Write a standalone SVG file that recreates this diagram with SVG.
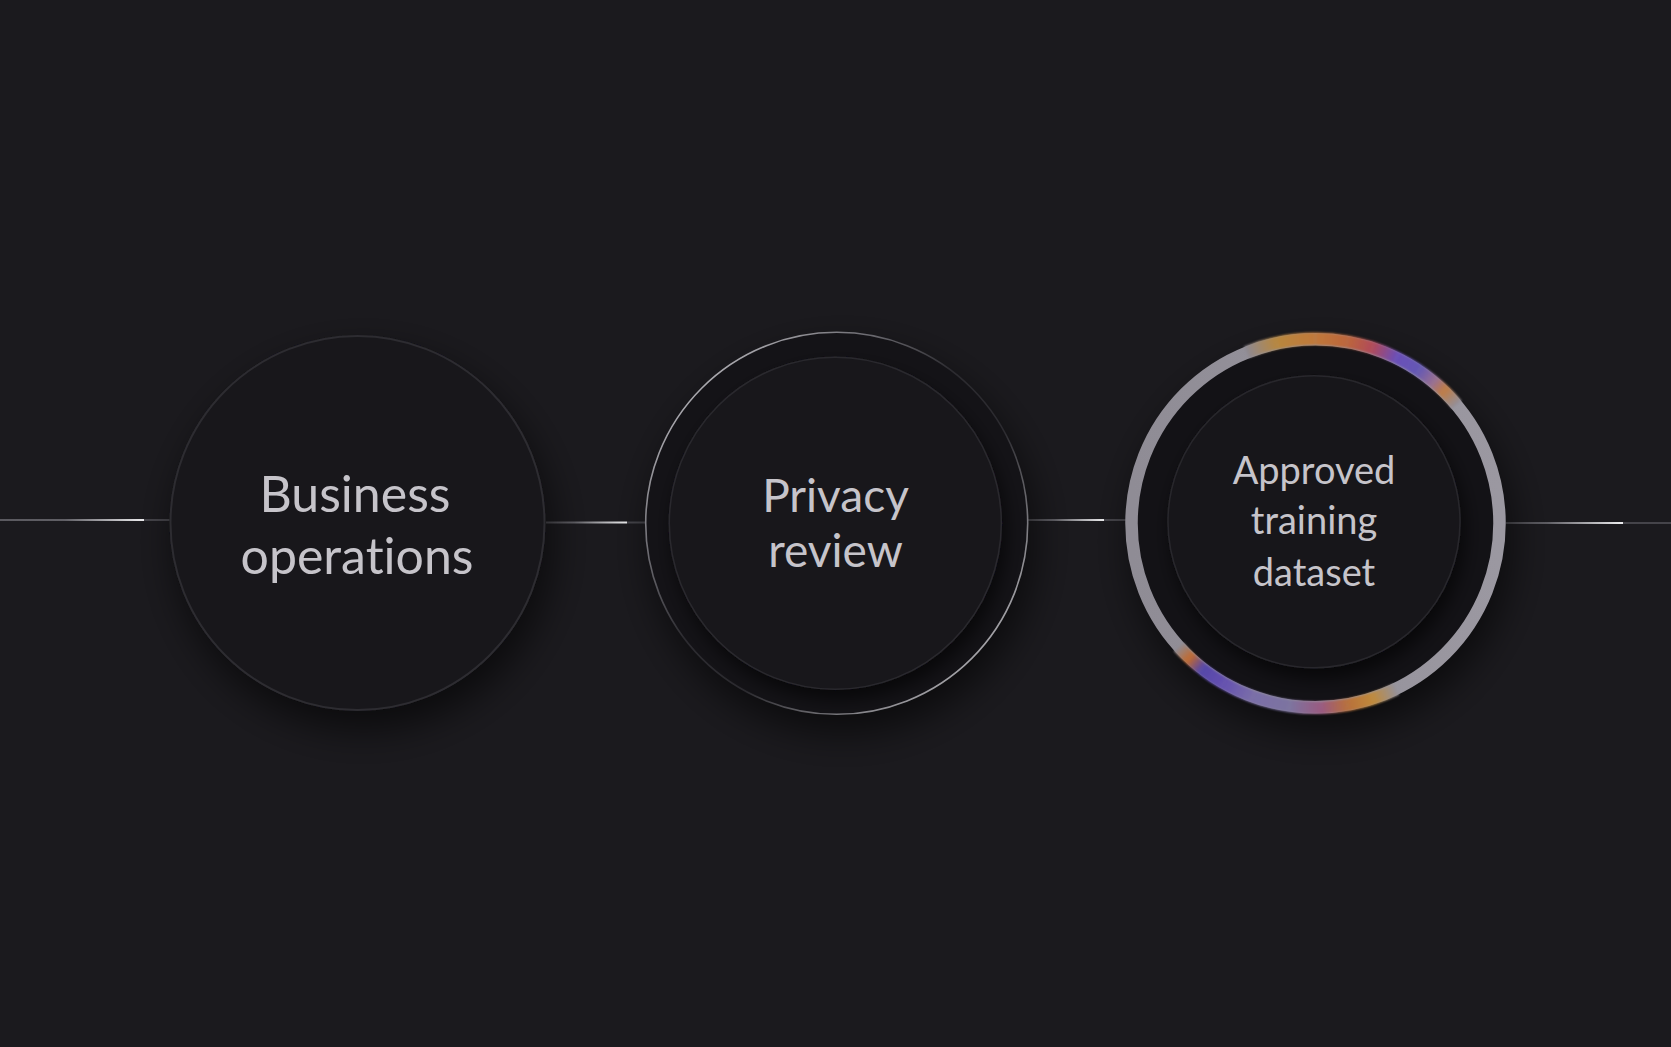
<svg xmlns="http://www.w3.org/2000/svg" width="1671" height="1047" viewBox="0 0 1671 1047">
<style>
.lbl{font-family:Lato,"Noto Sans","DejaVu Sans",sans-serif;fill:#c6c4ca;text-anchor:middle;font-weight:400;font-variant-ligatures:none;font-feature-settings:"liga" 0}
.dim{stroke:#45444a;stroke-width:2}
.seg{fill:none;stroke-width:12.5;stroke-linecap:butt}
</style>
<defs>
<filter id="drop" x="-40%" y="-40%" width="180%" height="190%">
<feDropShadow dx="6" dy="18" stdDeviation="20" flood-color="#000" flood-opacity="0.6"/>
</filter>
<filter id="inner" x="-30%" y="-30%" width="160%" height="170%">
<feDropShadow dx="4" dy="10" stdDeviation="9" flood-color="#000" flood-opacity="0.6"/>
</filter>
<filter id="soft" x="-10%" y="-10%" width="120%" height="120%">
<feGaussianBlur stdDeviation="0.9"/>
</filter>
<linearGradient id="ln0" gradientUnits="userSpaceOnUse" x1="0" y1="0" x2="144" y2="0">
<stop offset="0" stop-color="#5a595f"/><stop offset="0.45" stop-color="#605f65"/><stop offset="1" stop-color="#eeeef0"/>
</linearGradient>
<linearGradient id="ln1" gradientUnits="userSpaceOnUse" x1="546" y1="0" x2="627" y2="0">
<stop offset="0" stop-color="#4a494f"/><stop offset="0.35" stop-color="#5e5d63"/><stop offset="1" stop-color="#eeeef0"/>
</linearGradient>
<linearGradient id="ln2" gradientUnits="userSpaceOnUse" x1="1028" y1="0" x2="1104" y2="0">
<stop offset="0" stop-color="#4a494f"/><stop offset="0.35" stop-color="#5e5d63"/><stop offset="1" stop-color="#eeeef0"/>
</linearGradient>
<linearGradient id="ln3" gradientUnits="userSpaceOnUse" x1="1506" y1="0" x2="1623" y2="0">
<stop offset="0" stop-color="#4a494f"/><stop offset="0.35" stop-color="#5e5d63"/><stop offset="1" stop-color="#eeeef0"/>
</linearGradient>
<linearGradient id="ring2" x1="0" y1="0" x2="1" y2="1">
<stop offset="0" stop-color="#e4e3e8"/><stop offset="0.3" stop-color="#6a696f"/><stop offset="0.45" stop-color="#2c2b30"/><stop offset="0.6" stop-color="#2c2b30"/><stop offset="0.78" stop-color="#8a898e"/><stop offset="1" stop-color="#dcdbe0"/>
</linearGradient>
<linearGradient id="ring3" x1="0" y1="0" x2="1" y2="0">
<stop offset="0" stop-color="#8f8c95"/><stop offset="1" stop-color="#9b98a1"/>
</linearGradient>
<linearGradient id="t1" gradientUnits="userSpaceOnUse" x1="1246.4" y1="352.2" x2="1277.1" y2="342.8"><stop offset="0" stop-color="#8e8a93"/><stop offset="1" stop-color="#b8873e"/></linearGradient>
<linearGradient id="t2" gradientUnits="userSpaceOnUse" x1="1277.1" y1="342.8" x2="1315.5" y2="338.8"><stop offset="0" stop-color="#b8873e"/><stop offset="1" stop-color="#c0783a"/></linearGradient>
<linearGradient id="t3" gradientUnits="userSpaceOnUse" x1="1315.5" y1="338.8" x2="1347.5" y2="341.6"><stop offset="0" stop-color="#c0783a"/><stop offset="1" stop-color="#bc663c"/></linearGradient>
<linearGradient id="t4" gradientUnits="userSpaceOnUse" x1="1347.5" y1="341.6" x2="1372.5" y2="347.8"><stop offset="0" stop-color="#bc663c"/><stop offset="1" stop-color="#b04a5a"/></linearGradient>
<linearGradient id="t5" gradientUnits="userSpaceOnUse" x1="1372.5" y1="347.8" x2="1396.4" y2="357.5"><stop offset="0" stop-color="#b04a5a"/><stop offset="1" stop-color="#6a4fb8"/></linearGradient>
<linearGradient id="t6" gradientUnits="userSpaceOnUse" x1="1396.4" y1="357.5" x2="1418.7" y2="370.3"><stop offset="0" stop-color="#6a4fb8"/><stop offset="1" stop-color="#6458b4"/></linearGradient>
<linearGradient id="t7" gradientUnits="userSpaceOnUse" x1="1418.7" y1="370.3" x2="1434.1" y2="382.0"><stop offset="0" stop-color="#6458b4"/><stop offset="1" stop-color="#9a7090"/></linearGradient>
<linearGradient id="t8" gradientUnits="userSpaceOnUse" x1="1434.1" y1="382.0" x2="1443.7" y2="390.6"><stop offset="0" stop-color="#9a7090"/><stop offset="1" stop-color="#c07c44"/></linearGradient>
<linearGradient id="t9" gradientUnits="userSpaceOnUse" x1="1443.7" y1="390.6" x2="1456.8" y2="404.7"><stop offset="0" stop-color="#c07c44"/><stop offset="1" stop-color="#938f99"/></linearGradient>
<linearGradient id="b1" gradientUnits="userSpaceOnUse" x1="1396.4" y1="689.1" x2="1372.5" y2="698.8"><stop offset="0" stop-color="#95929b"/><stop offset="1" stop-color="#c08a3a"/></linearGradient>
<linearGradient id="b2" gradientUnits="userSpaceOnUse" x1="1372.5" y1="698.8" x2="1347.5" y2="705.0"><stop offset="0" stop-color="#c08a3a"/><stop offset="1" stop-color="#b8703c"/></linearGradient>
<linearGradient id="b3" gradientUnits="userSpaceOnUse" x1="1347.5" y1="705.0" x2="1321.9" y2="707.7"><stop offset="0" stop-color="#b8703c"/><stop offset="1" stop-color="#9a5a80"/></linearGradient>
<linearGradient id="b4" gradientUnits="userSpaceOnUse" x1="1321.9" y1="707.7" x2="1289.8" y2="706.0"><stop offset="0" stop-color="#9a5a80"/><stop offset="1" stop-color="#7d74a0"/></linearGradient>
<linearGradient id="b5" gradientUnits="userSpaceOnUse" x1="1289.8" y1="706.0" x2="1252.4" y2="696.7"><stop offset="0" stop-color="#7d74a0"/><stop offset="1" stop-color="#7a6ea8"/></linearGradient>
<linearGradient id="b6" gradientUnits="userSpaceOnUse" x1="1252.4" y1="696.7" x2="1223.25" y2="683.1"><stop offset="0" stop-color="#7a6ea8"/><stop offset="1" stop-color="#6450b0"/></linearGradient>
<linearGradient id="b7" gradientUnits="userSpaceOnUse" x1="1223.25" y1="683.1" x2="1201.9" y2="668.7"><stop offset="0" stop-color="#6450b0"/><stop offset="1" stop-color="#5547a8"/></linearGradient>
<linearGradient id="b8" gradientUnits="userSpaceOnUse" x1="1201.9" y1="668.7" x2="1189.7" y2="658.2"><stop offset="0" stop-color="#5547a8"/><stop offset="1" stop-color="#c06a30"/></linearGradient>
<linearGradient id="b9" gradientUnits="userSpaceOnUse" x1="1189.7" y1="658.2" x2="1178.4" y2="646.7"><stop offset="0" stop-color="#c06a30"/><stop offset="1" stop-color="#8e8b94"/></linearGradient>
</defs>

<rect width="1671" height="1047" fill="#1b1a1e"/>

<g id="connectors">
<line x1="0" y1="520" x2="144" y2="520" stroke="url(#ln0)" stroke-width="2"/>
<line class="dim" x1="144" y1="520" x2="172" y2="520"/>
<line x1="546" y1="522.5" x2="627" y2="522.5" stroke="url(#ln1)" stroke-width="2"/>
<line class="dim" x1="627" y1="522.5" x2="646" y2="522.5"/>
<line x1="1028" y1="520" x2="1104" y2="520" stroke="url(#ln2)" stroke-width="2"/>
<line class="dim" x1="1104" y1="520" x2="1126" y2="520"/>
<line x1="1506" y1="523" x2="1623" y2="523" stroke="url(#ln3)" stroke-width="2"/>
<line class="dim" x1="1623" y1="523" x2="1671" y2="523"/>
</g>

<g id="node-business">
<circle cx="357.5" cy="523" r="188" fill="#18171b" filter="url(#drop)"/>
<circle cx="357.5" cy="523" r="187" fill="#18171b" stroke="#2d2c31" stroke-width="2"/>
<text class="lbl" x="355" y="512" font-size="50">Business</text>
<text class="lbl" x="357" y="574" font-size="50">operations</text>
</g>

<g id="node-privacy">
<circle cx="836.7" cy="523.3" r="191" fill="#141317" filter="url(#drop)"/>
<circle cx="836.7" cy="523.3" r="191" fill="#141317" stroke="url(#ring2)" stroke-width="1.6"/>
<circle cx="835.3" cy="523.3" r="167" fill="#18171b" filter="url(#inner)"/>
<circle cx="835.3" cy="523.3" r="166" fill="#18171b" stroke="#2a292e" stroke-width="1.5"/>
<text class="lbl" x="835.5" y="512" font-size="46">Privacy</text>
<text class="lbl" x="835.5" y="567" font-size="46">review</text>
</g>

<g id="node-dataset">
<circle cx="1315.5" cy="523.3" r="189" fill="#131216" filter="url(#drop)"/>
<circle cx="1315.5" cy="523.3" r="184" fill="#131216" stroke="url(#ring3)" stroke-width="12.5"/>
<g filter="url(#soft)">
<path class="seg" stroke="url(#t1)" d="M1246.4 352.2 A184.5 184.5 0 0 1 1277.1 342.8"/>
<path class="seg" stroke="url(#t2)" d="M1277.1 342.8 A184.5 184.5 0 0 1 1315.5 338.8"/>
<path class="seg" stroke="url(#t3)" d="M1315.5 338.8 A184.5 184.5 0 0 1 1347.5 341.6"/>
<path class="seg" stroke="url(#t4)" d="M1347.5 341.6 A184.5 184.5 0 0 1 1372.5 347.8"/>
<path class="seg" stroke="url(#t5)" d="M1372.5 347.8 A184.5 184.5 0 0 1 1396.4 357.5"/>
<path class="seg" stroke="url(#t6)" d="M1396.4 357.5 A184.5 184.5 0 0 1 1418.7 370.3"/>
<path class="seg" stroke="url(#t7)" d="M1418.7 370.3 A184.5 184.5 0 0 1 1434.1 382.0"/>
<path class="seg" stroke="url(#t8)" d="M1434.1 382.0 A184.5 184.5 0 0 1 1443.7 390.6"/>
<path class="seg" stroke="url(#t9)" d="M1443.7 390.6 A184.5 184.5 0 0 1 1456.8 404.7"/>
<path class="seg" stroke="url(#b1)" d="M1396.4 689.1 A184.5 184.5 0 0 1 1372.5 698.8"/>
<path class="seg" stroke="url(#b2)" d="M1372.5 698.8 A184.5 184.5 0 0 1 1347.5 705.0"/>
<path class="seg" stroke="url(#b3)" d="M1347.5 705.0 A184.5 184.5 0 0 1 1321.9 707.7"/>
<path class="seg" stroke="url(#b4)" d="M1321.9 707.7 A184.5 184.5 0 0 1 1289.8 706.0"/>
<path class="seg" stroke="url(#b5)" d="M1289.8 706.0 A184.5 184.5 0 0 1 1252.4 696.7"/>
<path class="seg" stroke="url(#b6)" d="M1252.4 696.7 A184.5 184.5 0 0 1 1223.25 683.1"/>
<path class="seg" stroke="url(#b7)" d="M1223.25 683.1 A184.5 184.5 0 0 1 1201.9 668.7"/>
<path class="seg" stroke="url(#b8)" d="M1201.9 668.7 A184.5 184.5 0 0 1 1189.7 658.2"/>
<path class="seg" stroke="url(#b9)" d="M1189.7 658.2 A184.5 184.5 0 0 1 1178.4 646.7"/>
</g>
<circle cx="1314" cy="521.7" r="147" fill="#17161a" filter="url(#inner)"/>
<circle cx="1314" cy="521.7" r="146" fill="#17161a" stroke="#28272c" stroke-width="1.5"/>
<text class="lbl" x="1314" y="484" font-size="38">Approved</text>
<text class="lbl" x="1314" y="534" font-size="38">training</text>
<text class="lbl" x="1314" y="586" font-size="38">dataset</text>
</g>
</svg>
